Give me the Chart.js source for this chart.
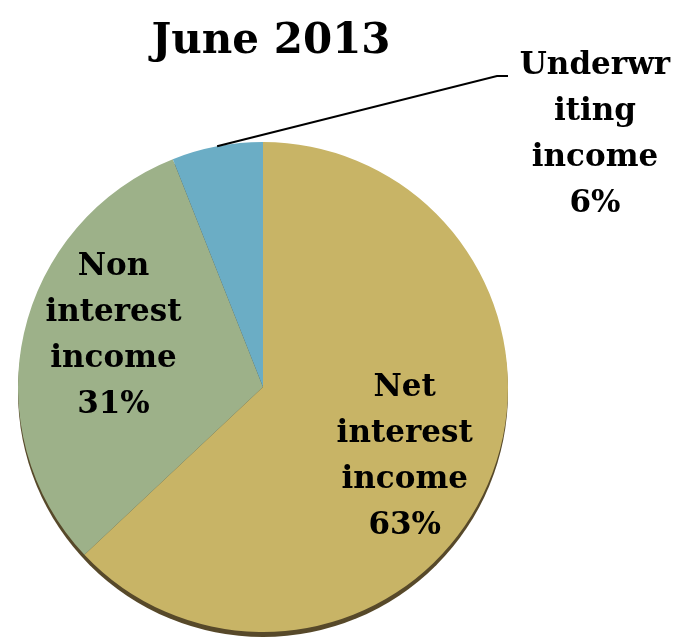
<!DOCTYPE html>
<html>
<head>
<meta charset="utf-8">
<script src="https://cdn.jsdelivr.net/npm/chart.js@4/dist/chart.umd.min.js"></script>
<style>
  html, body { margin: 0; padding: 0; background: #ffffff; }
  #wrap { position: relative; width: 682px; height: 642px; }
</style>
</head>
<body>
<div id="wrap"><canvas id="c" width="682" height="642"></canvas></div>
<script>
const chartTitle = 'June 2013';
const categories = ['Net interest income', 'Non interest income', 'Underwriting income'];
const labelLines = [['Net', 'interest', 'income'], ['Non', 'interest', 'income'], ['Underwr', 'iting', 'income']];
const shares = [63, 31, 6];
const sliceColors = ['#c8b466', '#9db189', '#6badc5'];

const FONT = '"DejaVu Serif", "Liberation Serif", serif';

const decor = {
  id: 'decor',
  beforeDatasetsDraw(chart) {
    const arc = chart.getDatasetMeta(0).data[0];
    if (!arc) return;
    const ctx = chart.ctx;
    ctx.save();
    ctx.beginPath();
    ctx.arc(arc.x, arc.y + 5, arc.outerRadius, 0, Math.PI * 2);
    ctx.fillStyle = '#57492a';
    ctx.fill();
    ctx.restore();
  },
  afterDraw(chart) {
    const ctx = chart.ctx;
    const meta = chart.getDatasetMeta(0);
    ctx.save();
    // title
    ctx.fillStyle = '#000';
    ctx.textAlign = 'center';
    ctx.textBaseline = 'alphabetic';
    ctx.font = 'bold 42px ' + FONT;
    ctx.fillText(chartTitle, 271, 53);

    ctx.font = 'bold 31px ' + FONT;
    ctx.textBaseline = 'middle';
    const lh = 46;
    meta.data.forEach((arc, i) => {
      const mid = (arc.startAngle + arc.endAngle) / 2;
      const lines = labelLines[i].concat([shares[i] + '%']);
      if (i === 2) {
        // outside label with leader line
        const sx = arc.x + Math.cos(mid) * arc.outerRadius;
        const sy = arc.y + Math.sin(mid) * arc.outerRadius;
        ctx.beginPath();
        ctx.moveTo(sx, sy);
        ctx.lineTo(497, 76);
        ctx.lineTo(508, 76);
        ctx.strokeStyle = '#000';
        ctx.lineWidth = 2;
        ctx.stroke();
        lines.forEach((t, k) => ctx.fillText(t, 595, 66 + k * lh));
      } else {
        const r = arc.outerRadius * 0.645;
        const cx = arc.x + Math.cos(mid + (i === 0 ? 0.05 : 0.11)) * r;
        const cy = arc.y + Math.sin(mid + (i === 0 ? 0.05 : 0.11)) * r;
        const y0 = cy - (lines.length - 1) * lh / 2;
        lines.forEach((t, k) => ctx.fillText(t, cx, y0 + k * lh));
      }
    });
    ctx.restore();
  }
};

new Chart(document.getElementById('c'), {
  type: 'pie',
  data: {
    labels: categories,
    datasets: [{
      data: shares,
      backgroundColor: sliceColors,
      borderWidth: 0
    }]
  },
  options: {
    responsive: false,
    animation: false,
    layout: { padding: { left: 18, right: 174, top: 142, bottom: 10 } },
    plugins: {
      legend: { display: false },
      tooltip: { enabled: false },
      title: { display: false }
    }
  },
  plugins: [decor]
});
</script>
</body>
</html>
